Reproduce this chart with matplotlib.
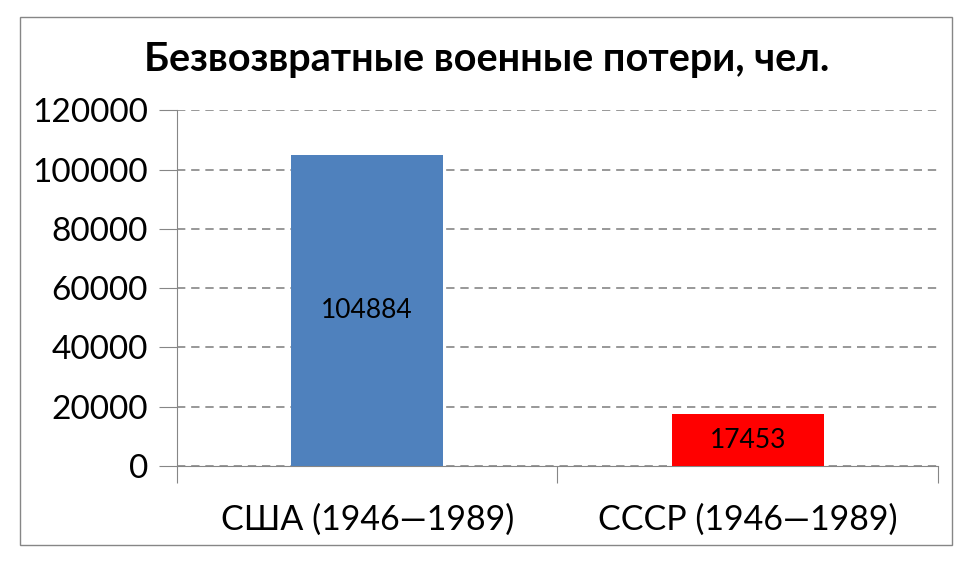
import matplotlib.pyplot as plt
from matplotlib.patches import Rectangle

categories = ['США (1946—1989)', 'СССР (1946—1989)']
losses = [104884, 17453]
bar_colors = ['#4f81bd', '#ff0000']
y_ticks = [0, 20000, 40000, 60000, 80000, 100000, 120000]

plt.rcParams['font.family'] = ['Lato', 'DejaVu Sans']

fig = plt.figure(figsize=(9.67, 5.65), dpi=100)
ax = fig.add_axes([0.183, 0.175, 0.787, 0.63])

pos = [0.5, 1.5]
bars = ax.bar(pos, losses, width=0.4, color=bar_colors, zorder=3)
for b, v in zip(bars, losses):
    ax.text(b.get_x() + b.get_width() / 2, v / 2, str(v), ha='center', va='center',
            fontsize=19, zorder=4)

ax.set_xlim(0, 2)
ax.set_ylim(0, 120000)
ax.set_yticks(y_ticks)
ax.set_yticklabels([str(t) for t in y_ticks], fontsize=24)
ax.set_xticks([0, 1, 2])
ax.set_xticklabels([])
ax.set_xticks(pos, minor=True)
ax.set_xticklabels(categories, minor=True, fontsize=24.5)
ax.tick_params(axis='x', which='minor', length=0, pad=27)
ax.tick_params(axis='x', which='major', length=12, color='#868686', direction='out')
ax.tick_params(axis='y', length=13, color='#868686', pad=8)

ax.yaxis.grid(True, linestyle=(0, (5, 3.5)), color='#868686', linewidth=1.2, zorder=0)
for side in ['top', 'right']:
    ax.spines[side].set_visible(False)
for side in ['left', 'bottom']:
    ax.spines[side].set_color('#868686')

fig.text(0.503, 0.895, 'Безвозвратные военные потери, чел.', ha='center', va='center',
         fontsize=28.5, fontweight='bold')

fig.add_artist(Rectangle((20 / 967, 1 - 545 / 565), 932 / 967, 528 / 565,
                         transform=fig.transFigure, fill=False, edgecolor='#868686', linewidth=1))

fig.savefig('out.png', dpi=100)
